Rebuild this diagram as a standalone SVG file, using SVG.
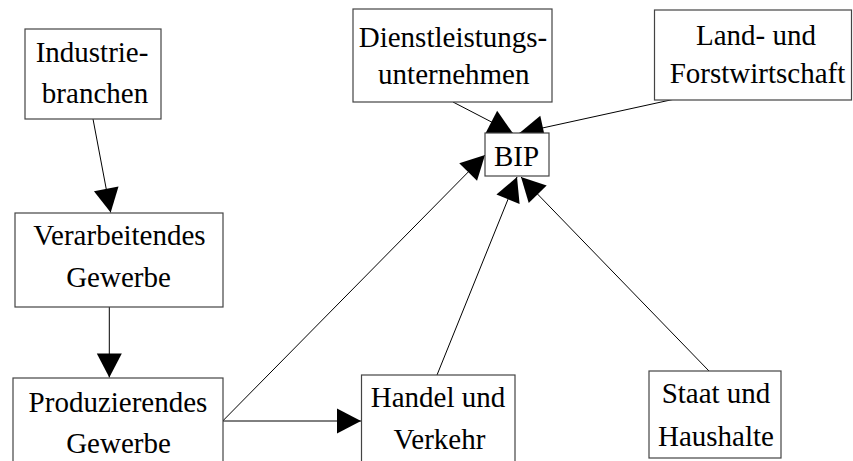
<svg xmlns="http://www.w3.org/2000/svg" width="853" height="461" viewBox="0 0 853 461">
  <style>
    .box { fill: #ffffff; stroke: #444444; stroke-width: 1.2; }
    .edge { fill: none; stroke: #000000; stroke-width: 1; marker-end: url(#arrow); }
  </style>
  <defs>
    <marker id="arrow" markerUnits="userSpaceOnUse" markerWidth="24" markerHeight="25" refX="24" refY="12.5" orient="auto" overflow="visible">
      <path d="M0,0 L24,12.5 L0,25 Z" fill="#000000"/>
    </marker>
  </defs>
  <rect width="853" height="461" fill="#ffffff"/>

  <g id="edges">
    <line class="edge" x1="93" y1="119" x2="110.7" y2="212.5"/>
    <line class="edge" x1="109.3" y1="307" x2="109.3" y2="377.5"/>
    <line class="edge" x1="222.7" y1="421" x2="361" y2="421"/>
    <line class="edge" x1="222.7" y1="421" x2="485" y2="155"/>
    <line class="edge" x1="437" y1="375" x2="517" y2="177"/>
    <line class="edge" x1="709" y1="371" x2="521" y2="177"/>
    <line class="edge" x1="453" y1="102" x2="512.7" y2="133"/>
    <line class="edge" x1="675" y1="99" x2="519.5" y2="133"/>
  </g>

  <g font-family="Liberation Serif, Times New Roman, serif" font-size="29" fill="#000000" text-anchor="middle">
    <g id="industriebranchen">
      <rect class="box" x="25" y="29" width="136" height="90"/>
      <text x="92" y="62">Industrie-</text>
      <text x="95" y="103">branchen</text>
    </g>

    <g id="verarbeitendes-gewerbe">
      <rect class="box" x="15" y="213" width="208" height="94"/>
      <text x="119.5" y="245">Verarbeitendes</text>
      <text x="118.5" y="287">Gewerbe</text>
    </g>

    <g id="produzierendes-gewerbe">
      <rect class="box" x="13" y="378" width="210" height="90"/>
      <text x="118" y="412">Produzierendes</text>
      <text x="118.5" y="453">Gewerbe</text>
    </g>

    <g id="handel-und-verkehr">
      <rect class="box" x="361.5" y="375" width="153.5" height="90"/>
      <text x="438" y="407">Handel und</text>
      <text x="439.5" y="449">Verkehr</text>
    </g>

    <g id="staat-und-haushalte">
      <rect class="box" x="649" y="371" width="132" height="87"/>
      <text x="716" y="403">Staat und</text>
      <text x="716" y="446">Haushalte</text>
    </g>

    <g id="dienstleistungsunternehmen">
      <rect class="box" x="353" y="9" width="199" height="93"/>
      <text x="453" y="47">Dienstleistungs-</text>
      <text x="453.8" y="84">unternehmen</text>
    </g>

    <g id="land-und-forstwirtschaft">
      <rect class="box" x="654.5" y="10" width="197" height="90"/>
      <text x="756" y="45">Land- und</text>
      <text x="757.5" y="83">Forstwirtschaft</text>
    </g>

    <g id="bip">
      <rect class="box" x="485" y="133" width="64" height="43"/>
      <text x="516.5" y="166">BIP</text>
    </g>
  </g>
</svg>
